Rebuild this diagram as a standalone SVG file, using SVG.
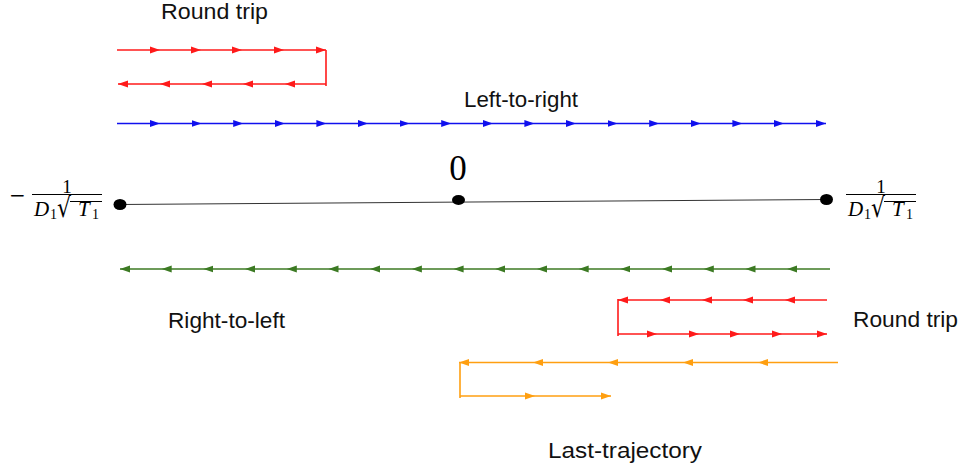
<svg xmlns="http://www.w3.org/2000/svg" width="964" height="473" viewBox="0 0 964 473">
<style>
  .lbl { font-family: "Liberation Sans", Arial, sans-serif; font-size: 22.5px; fill: #111; }
  .m { font-family: "Liberation Serif", "DejaVu Serif", serif; fill: #000; }
  .rad { font-family: "DejaVu Sans", sans-serif; fill: #000; }
  .it { font-style: italic; }
  .red { stroke: #ff1a1a; stroke-width: 1.6; fill: none; }
  .blue { stroke: #1010ee; stroke-width: 1.6; fill: none; }
  .green { stroke: #3c7a23; stroke-width: 1.6; fill: none; }
  .orange { stroke: #ff9f10; stroke-width: 1.6; fill: none; }
  .red.a { marker-mid: url(#ar); marker-end: url(#ar); }
  .blue.a { marker-mid: url(#ab); marker-end: url(#ab); }
  .green.a { marker-mid: url(#ag); marker-end: url(#ag); }
  .orange.a { marker-mid: url(#ao); marker-end: url(#ao); }
</style>
<defs>
  <marker id="ar" markerUnits="userSpaceOnUse" markerWidth="11" markerHeight="8" refX="10" refY="4" orient="auto"><path d="M0,0.5 L10,4 L0,7.5 z" fill="#ff1a1a"/></marker>
  <marker id="ab" markerUnits="userSpaceOnUse" markerWidth="11" markerHeight="8" refX="10" refY="4" orient="auto"><path d="M0,0.5 L10,4 L0,7.5 z" fill="#1010ee"/></marker>
  <marker id="ag" markerUnits="userSpaceOnUse" markerWidth="11" markerHeight="8" refX="10" refY="4" orient="auto"><path d="M0,0.5 L10,4 L0,7.5 z" fill="#3c7a23"/></marker>
  <marker id="ao" markerUnits="userSpaceOnUse" markerWidth="11" markerHeight="8" refX="10" refY="4" orient="auto"><path d="M0,0.5 L10,4 L0,7.5 z" fill="#ff9f10"/></marker>
</defs>
<rect width="964" height="473" fill="#fff"/>

<g id="connectors">
  <!-- top round trip -->
  <path class="red a" d="M117,50 L160,50 L201,50 L242,50 L284,50 L326,50"/>
  <path class="red" d="M326,50 L326,86"/>
  <path class="red a" d="M326,84 L285,84 L243,84 L202,84 L160,84 L118,84"/>
  <!-- left-to-right -->
  <path class="blue a" d="M117,123.5 L160,123.5 L201.6,123.5 L243.2,123.5 L284.8,123.5 L326.4,123.5 L368,123.5 L409.6,123.5 L451.2,123.5 L492.8,123.5 L534.4,123.5 L576,123.5 L617.6,123.5 L659.2,123.5 L700.8,123.5 L742.4,123.5 L784,123.5 L826,123.5"/>
  <!-- main axis -->
  <path d="M120,204.5 L826,199.5" stroke="#333" stroke-width="1" fill="none"/>
  <!-- right-to-left -->
  <path class="green a" d="M830,269 L787.2,269 L745.5,269 L703.8,269 L662.1,269 L620.4,269 L578.7,269 L537,269 L495.3,269 L453.6,269 L411.9,269 L370.2,269 L328.5,269 L286.8,269 L245.1,269 L203.4,269 L161.7,269 L120,269"/>
  <!-- right round trip -->
  <path class="red a" d="M827,300 L785,300 L743,300 L702,300 L660,300 L618,300"/>
  <path class="red" d="M618,299 L618,336"/>
  <path class="red a" d="M618,334 L657,334 L699,334 L740,334 L782,334 L827,334"/>
  <!-- last trajectory -->
  <path class="orange a" d="M838,362.5 L758,362.5 L683,362.5 L608,362.5 L533,362.5 L459,362.5"/>
  <path class="orange" d="M460,362 L460,398"/>
  <path class="orange a" d="M460,396 L535,396 L611,396"/>
</g>

<g id="node-left">
  <ellipse cx="120" cy="204.5" rx="6.5" ry="5.5" fill="#000"/>
  <text class="rad" x="9" y="202" font-size="20">−</text>
  <text class="m" x="67" y="193" font-size="19" text-anchor="middle">1</text>
  <line x1="32" y1="194.5" x2="102" y2="194.5" stroke="#000" stroke-width="1"/>
  <text class="m it" x="34" y="216" font-size="21">D</text>
  <text class="m" x="50" y="219" font-size="14">1</text>
  <text class="rad" transform="translate(57,217) scale(1,1.25)" font-size="22">√</text>
  <line x1="70" y1="201.5" x2="102" y2="201.5" stroke="#000" stroke-width="1"/>
  <text class="m it" x="78" y="216" font-size="21">T</text>
  <text class="m" x="92" y="219" font-size="14">1</text>
</g>

<g id="node-zero">
  <ellipse cx="458.5" cy="200" rx="6.5" ry="5" fill="#000"/>
  <text class="m" x="458" y="180" font-size="35" text-anchor="middle">0</text>
</g>

<g id="node-right">
  <ellipse cx="826.5" cy="199.5" rx="6.5" ry="5.5" fill="#000"/>
  <text class="m" x="881" y="193" font-size="19" text-anchor="middle">1</text>
  <line x1="846" y1="194.5" x2="916" y2="194.5" stroke="#000" stroke-width="1"/>
  <text class="m it" x="848" y="216" font-size="21">D</text>
  <text class="m" x="864" y="219" font-size="14">1</text>
  <text class="rad" transform="translate(871,217) scale(1,1.25)" font-size="22">√</text>
  <line x1="884" y1="201.5" x2="916" y2="201.5" stroke="#000" stroke-width="1"/>
  <text class="m it" x="892" y="216" font-size="21">T</text>
  <text class="m" x="906" y="219" font-size="14">1</text>
</g>

<g id="labels">
  <text class="lbl" x="161" y="19" textLength="107" lengthAdjust="spacingAndGlyphs">Round trip</text>
  <text class="lbl" x="464" y="107" textLength="114" lengthAdjust="spacingAndGlyphs">Left-to-right</text>
  <text class="lbl" x="168" y="328" textLength="117" lengthAdjust="spacingAndGlyphs">Right-to-left</text>
  <text class="lbl" x="853" y="327" textLength="105" lengthAdjust="spacingAndGlyphs">Round trip</text>
  <text class="lbl" x="548" y="458" textLength="154" lengthAdjust="spacingAndGlyphs">Last-trajectory</text>
</g>
</svg>
